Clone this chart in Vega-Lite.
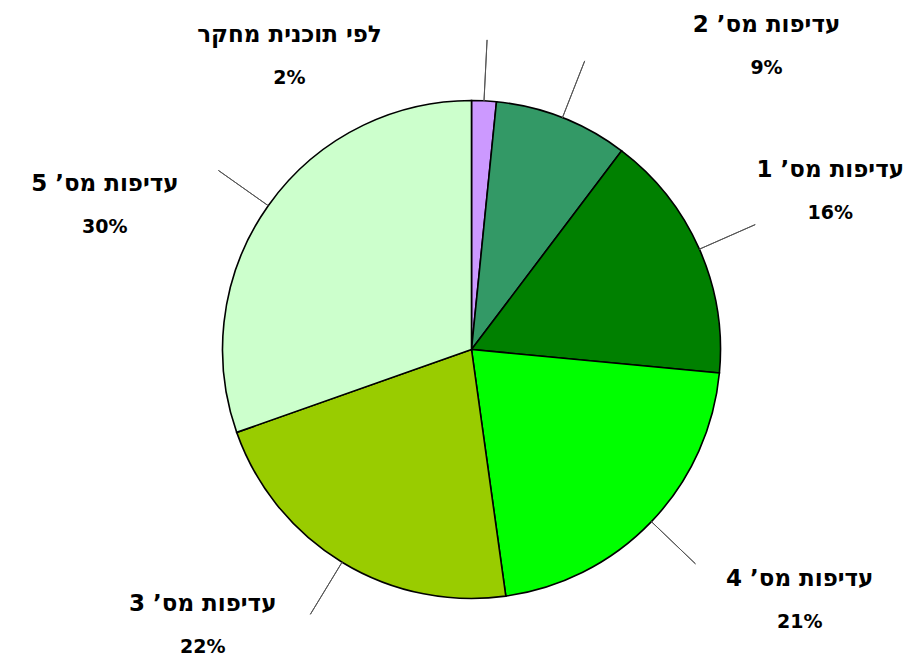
{
  "$schema": "https://vega.github.io/schema/vega-lite/v6.json",
  "width": 875,
  "height": 619,
  "autosize": {"type": "none"},
  "padding": {"left": 34, "top": 40, "right": 0, "bottom": 0},
  "background": "white",
  "view": {"stroke": null},
  "data": {
    "values": [
      {"rank": 1, "category": "לפי תוכנית מחקר", "share": 0.016},
      {"rank": 2, "category": "עדיפות מס’ 2", "share": 0.087},
      {"rank": 3, "category": "עדיפות מס’ 1", "share": 0.162},
      {"rank": 4, "category": "עדיפות מס’ 4", "share": 0.213},
      {"rank": 5, "category": "עדיפות מס’ 3", "share": 0.218},
      {"rank": 6, "category": "עדיפות מס’ 5", "share": 0.304}
    ]
  },
  "encoding": {
    "theta": {"field": "share", "type": "quantitative", "stack": true},
    "order": {"field": "rank", "type": "quantitative"},
    "detail": {"field": "category", "type": "nominal"}
  },
  "layer": [
    {
      "mark": {"type": "arc", "outerRadius": 249, "stroke": "black", "strokeWidth": 1.6},
      "encoding": {
        "color": {
          "field": "category", "type": "nominal", "legend": null,
          "scale": {
            "domain": ["לפי תוכנית מחקר", "עדיפות מס’ 2", "עדיפות מס’ 1", "עדיפות מס’ 4", "עדיפות מס’ 3", "עדיפות מס’ 5"],
            "range": ["#CC99FF", "#339966", "#008000", "#00FF00", "#99CC00", "#CCFFCC"]
          }
        }
      }
    },
    {
      "mark": {"type": "arc", "outerRadius": 310, "innerRadius": 249, "padAngle": 3.1416, "filled": false, "fill": null, "stroke": "#555555", "strokeWidth": 1}
    },
    {
      "mark": {"type": "text", "radius": 345, "thetaOffset": -0.606, "dy": -21.5, "font": "DejaVu Sans", "fontSize": 23, "fontWeight": "bold", "color": "black", "baseline": "middle", "align": "center"},
      "encoding": {"text": {"condition": {"test": "datum.rank === 1", "field": "category"}, "value": ""}}
    },
    {
      "mark": {"type": "text", "radius": 345, "thetaOffset": -0.606, "dy": 21.5, "font": "DejaVu Sans", "fontSize": 19, "fontWeight": "bold", "color": "black", "baseline": "middle", "align": "center"},
      "encoding": {"text": {"condition": {"test": "datum.rank === 1", "field": "share", "format": ".0%"}, "value": ""}}
    },
    {
      "mark": {"type": "text", "radius": 423, "thetaOffset": 0.398, "dy": -21.5, "font": "DejaVu Sans", "fontSize": 23, "fontWeight": "bold", "color": "black", "baseline": "middle", "align": "center"},
      "encoding": {"text": {"condition": {"test": "datum.rank === 2", "field": "category"}, "value": ""}}
    },
    {
      "mark": {"type": "text", "radius": 423, "thetaOffset": 0.398, "dy": 21.5, "font": "DejaVu Sans", "fontSize": 19, "fontWeight": "bold", "color": "black", "baseline": "middle", "align": "center"},
      "encoding": {"text": {"condition": {"test": "datum.rank === 2", "field": "share", "format": ".0%"}, "value": ""}}
    },
    {
      "mark": {"type": "text", "radius": 392, "thetaOffset": 0, "dy": -21.5, "font": "DejaVu Sans", "fontSize": 23, "fontWeight": "bold", "color": "black", "baseline": "middle", "align": "center"},
      "encoding": {"text": {"condition": {"test": "datum.rank === 3", "field": "category"}, "value": ""}}
    },
    {
      "mark": {"type": "text", "radius": 392, "thetaOffset": 0, "dy": 21.5, "font": "DejaVu Sans", "fontSize": 19, "fontWeight": "bold", "color": "black", "baseline": "middle", "align": "center"},
      "encoding": {"text": {"condition": {"test": "datum.rank === 3", "field": "share", "format": ".0%"}, "value": ""}}
    },
    {
      "mark": {"type": "text", "radius": 413, "thetaOffset": -0.111, "dy": -21.5, "font": "DejaVu Sans", "fontSize": 23, "fontWeight": "bold", "color": "black", "baseline": "middle", "align": "center"},
      "encoding": {"text": {"condition": {"test": "datum.rank === 4", "field": "category"}, "value": ""}}
    },
    {
      "mark": {"type": "text", "radius": 413, "thetaOffset": -0.111, "dy": 21.5, "font": "DejaVu Sans", "fontSize": 19, "fontWeight": "bold", "color": "black", "baseline": "middle", "align": "center"},
      "encoding": {"text": {"condition": {"test": "datum.rank === 4", "field": "share", "format": ".0%"}, "value": ""}}
    },
    {
      "mark": {"type": "text", "radius": 385, "thetaOffset": 0.226, "dy": -21.5, "font": "DejaVu Sans", "fontSize": 23, "fontWeight": "bold", "color": "black", "baseline": "middle", "align": "center"},
      "encoding": {"text": {"condition": {"test": "datum.rank === 5", "field": "category"}, "value": ""}}
    },
    {
      "mark": {"type": "text", "radius": 385, "thetaOffset": 0.226, "dy": 21.5, "font": "DejaVu Sans", "fontSize": 19, "fontWeight": "bold", "color": "black", "baseline": "middle", "align": "center"},
      "encoding": {"text": {"condition": {"test": "datum.rank === 5", "field": "share", "format": ".0%"}, "value": ""}}
    },
    {
      "mark": {"type": "text", "radius": 394, "thetaOffset": -0.241, "dy": -21.5, "font": "DejaVu Sans", "fontSize": 23, "fontWeight": "bold", "color": "black", "baseline": "middle", "align": "center"},
      "encoding": {"text": {"condition": {"test": "datum.rank === 6", "field": "category"}, "value": ""}}
    },
    {
      "mark": {"type": "text", "radius": 394, "thetaOffset": -0.241, "dy": 21.5, "font": "DejaVu Sans", "fontSize": 19, "fontWeight": "bold", "color": "black", "baseline": "middle", "align": "center"},
      "encoding": {"text": {"condition": {"test": "datum.rank === 6", "field": "share", "format": ".0%"}, "value": ""}}
    }
  ]
}
